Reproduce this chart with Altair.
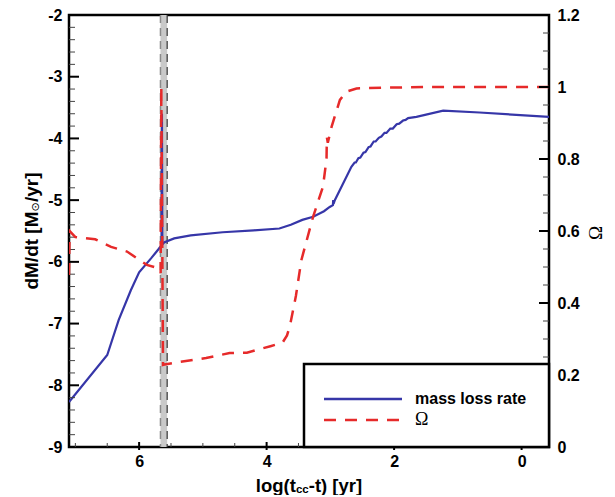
import altair as alt
import pandas as pd

# ---------------- data ----------------
mdot_x = [7.10, 6.50, 6.32, 6.13, 6.00, 5.81, 5.70, 5.648, 5.642, 5.636,
          5.60, 5.45, 5.19, 4.69, 4.20, 3.80, 3.62, 3.44, 3.27, 3.10,
          3.01, 2.96, 2.955, 2.95, 2.93, 2.80, 2.67,
          2.62, 2.60, 2.56, 2.53, 2.48, 2.45, 2.40, 2.37, 2.32, 2.29,
          2.24, 2.20, 2.15, 2.12, 2.06, 2.02, 1.96, 1.92, 1.86, 1.82,
          1.78, 1.65, 1.23, 0.66, -0.43]
mdot_y = [-8.27, -7.51, -6.94, -6.46, -6.17, -5.94, -5.80, -5.73, -3.60, -5.72,
          -5.68, -5.62, -5.57, -5.52, -5.49, -5.46, -5.40, -5.32, -5.27, -5.18,
          -5.11, -5.08, -5.00, -5.06, -5.00, -4.73, -4.46,
          -4.39, -4.39, -4.32, -4.31, -4.23, -4.22, -4.14, -4.13, -4.05, -4.05,
          -3.99, -3.97, -3.91, -3.91, -3.84, -3.84, -3.77, -3.76, -3.71, -3.70,
          -3.67, -3.65, -3.55, -3.58, -3.65]

omega_x = [7.10, 7.09, 7.00, 6.69, 6.44, 6.19, 5.88, 5.69, 5.662, 5.652,
           5.625, 5.60, 5.415, 4.95, 4.58, 4.31, 3.94, 3.75, 3.68, 3.63,
           3.54, 3.455, 3.27, 3.116, 3.06, 3.055, 3.04, 2.98, 2.85, 2.75,
           2.59, 2.20, 1.50, 0.50, -0.43]
omega_y = [0.478, 0.600, 0.583, 0.577, 0.556, 0.543, 0.506, 0.496, 0.483, 1.000,
           0.228, 0.229, 0.235, 0.247, 0.261, 0.262, 0.280, 0.290, 0.310, 0.340,
           0.420, 0.519, 0.640, 0.723, 0.800, 0.860, 0.845, 0.890, 0.964, 0.987,
           0.996, 0.998, 1.000, 1.000, 1.000]

band_edges = [5.665, 5.56]          # shaded vertical band
x_domain = [7.1, -0.43]
x_major = [6, 4, 2, 0]
x_minor = [7.0, 6.5, 5.5, 5.0, 4.5, 3.5, 3.0, 2.5, 1.5, 1.0, 0.5]
left_domain = [-9, -2]
left_major = [-9, -8, -7, -6, -5, -4, -3, -2]
left_minor = [round(-9 + 0.2 * i, 1) for i in range(36) if i % 5 != 0]
right_domain = [0, 1.2]
right_major = [0, 0.2, 0.4, 0.6, 0.8, 1.0, 1.2]
right_minor = [round(0.05 * i, 2) for i in range(25) if i % 4 != 0]
legend_labels = ["mass loss rate", "\u03a9"]
x_title = ["log(t", "cc", "-t) [yr]"]
y_title = ["dM/dt [M", "\u2299", "/yr]"]
right_title = "\u03a9"

# ---------------- styling ----------------
W, H = 480, 432
FONT = "Liberation Sans"
SERIF = "Liberation Serif"
BLUE = "#3636a8"
RED = "#e62a2a"

AW = {'l': 278, 'o': 611, 'g': 611, '(': 333, 't': 333, 'c': 556, '-': 333, ')': 333,
      ' ': 278, '[': 333, 'y': 556, 'r': 389, ']': 333, 'd': 611, 'M': 833, '/': 278}


def tw(s, size):
    return sum(AW[c] for c in s) * size / 1000.0


mdot_df = pd.DataFrame({"x": mdot_x, "y": mdot_y, "i": range(len(mdot_x))})
omega_df = pd.DataFrame({"x": omega_x, "y": omega_y, "i": range(len(omega_x))})
band_df = pd.DataFrame({"x0": [band_edges[0]], "x1": [band_edges[1]]})
one = pd.DataFrame({"k": [0]})

xscale = alt.Scale(domain=x_domain, nice=False, zero=False)
xaxis = alt.Axis(values=x_major, labelExpr="'' + datum.value", ticks=False, tickSize=0,
                 domain=False, grid=False, labelFont=FONT, labelFontSize=16,
                 labelFontWeight="bold", labelColor="black", labelPadding=6, title="")
lscale = alt.Scale(domain=left_domain, nice=False, zero=False)
laxis = alt.Axis(orient="left", values=left_major, labelExpr="'' + datum.value", ticks=False,
                 tickSize=0, domain=False, grid=False, labelFont=FONT, labelFontSize=16,
                 labelFontWeight="bold", labelColor="black", labelPadding=7, title="")
rscale = alt.Scale(domain=right_domain, nice=False, zero=False)
raxis = alt.Axis(orient="right", values=right_major, format=".1~f", ticks=False,
                 tickSize=0, domain=False, grid=False, labelFont=FONT, labelFontSize=16,
                 labelFontWeight="bold", labelColor="black", labelPadding=8, title="")


def X(f):
    return alt.X(f, type="quantitative", scale=xscale, axis=xaxis)


def YL(f):
    return alt.Y(f, type="quantitative", scale=lscale, axis=laxis)


def YR(f):
    return alt.Y(f, type="quantitative", scale=rscale, axis=raxis)


# ---------------- left group ----------------
band = alt.Chart(band_df).mark_rect(color="#c9c9c9").encode(
    x=X("x0"), x2="x1", y=alt.value(0), y2=alt.value(H))
band_l = alt.Chart(pd.DataFrame({"v": [band_edges[0]]})).mark_rule(
    color="#8a8a8a", strokeWidth=1.5, strokeDash=[8, 5]).encode(
    x=X("v"), y=alt.value(0), y2=alt.value(H))
band_r = alt.Chart(pd.DataFrame({"v": [band_edges[1]]})).mark_rule(
    color="#333333", strokeWidth=1.2, strokeDash=[8, 5]).encode(
    x=X("v"), y=alt.value(0), y2=alt.value(H))

blue = alt.Chart(mdot_df).mark_line(color=BLUE, strokeWidth=2.2, clip=True).encode(
    x=X("x"), y=YL("y"), order="i:Q")

lt_major = alt.Chart(pd.DataFrame({"v": left_major})).mark_rule(
    color="black", strokeWidth=2).encode(y=YL("v"), x=alt.value(0), x2=alt.value(10))
lt_minor = alt.Chart(pd.DataFrame({"v": left_minor})).mark_rule(
    color="#444444", strokeWidth=1).encode(y=YL("v"), x=alt.value(0), x2=alt.value(6))
xt_major = alt.Chart(pd.DataFrame({"v": x_major})).mark_rule(
    color="black", strokeWidth=2).encode(x=X("v"), y=alt.value(H - 5), y2=alt.value(H + 3))
xt_minor = alt.Chart(pd.DataFrame({"v": x_minor})).mark_rule(
    color="#444444", strokeWidth=1).encode(x=X("v"), y=alt.value(H - 4), y2=alt.value(H))

left_group = alt.layer(band, band_l, band_r, blue, lt_major, lt_minor, xt_major, xt_minor)

# ---------------- right group ----------------
red = alt.Chart(omega_df).mark_line(color=RED, strokeWidth=2.5, strokeDash=[12, 9],
                                     clip=True).encode(x=X("x"), y=YR("y"), order="i:Q")
rt_major = alt.Chart(pd.DataFrame({"v": right_major})).mark_rule(
    color="black", strokeWidth=2).encode(y=YR("v"), x=alt.value(W), x2=alt.value(W - 10))
rt_minor = alt.Chart(pd.DataFrame({"v": right_minor})).mark_rule(
    color="#444444", strokeWidth=1).encode(y=YR("v"), x=alt.value(W), x2=alt.value(W - 6))

# legend box
leg_box = alt.Chart(one).mark_rect(fill="white", stroke="black", strokeWidth=2.5).encode(
    x=alt.value(235), x2=alt.value(W), y=alt.value(349), y2=alt.value(H))
leg_blue = alt.Chart(one).mark_rule(color=BLUE, strokeWidth=2.5).encode(
    x=alt.value(255), x2=alt.value(333), y=alt.value(384))
leg_red = alt.Chart(one).mark_rule(color=RED, strokeWidth=2.5, strokeDash=[12, 9]).encode(
    x=alt.value(255), x2=alt.value(333), y=alt.value(405))
leg_t1 = alt.Chart(one).mark_text(text=legend_labels[0], font=FONT, fontSize=16,
                                   fontWeight="bold", align="left", baseline="middle",
                                   color="black").encode(x=alt.value(346), y=alt.value(384))
leg_t2 = alt.Chart(one).mark_text(text=legend_labels[1], font=SERIF, fontSize=18,
                                   align="left", baseline="middle",
                                   color="black").encode(x=alt.value(346), y=alt.value(405))

# axis titles built from pieces (for subscripts)
TS, SS = 18.5, 11.5
xw = [tw(x_title[0], TS), tw(x_title[1], SS), tw(x_title[2], TS)]
x0 = W / 2 - sum(xw) / 2
xy = H + 39
xt1 = alt.Chart(one).mark_text(text=x_title[0], font=FONT, fontSize=TS, fontWeight="bold",
                               align="left", color="black").encode(
    x=alt.value(x0), y=alt.value(xy))
xt2 = alt.Chart(one).mark_text(text=x_title[1], font=FONT, fontSize=SS, fontWeight="bold",
                               align="left", color="black").encode(
    x=alt.value(x0 + xw[0]), y=alt.value(xy + 4))
xt3 = alt.Chart(one).mark_text(text=x_title[2], font=FONT, fontSize=TS, fontWeight="bold",
                               align="left", color="black").encode(
    x=alt.value(x0 + xw[0] + xw[1]), y=alt.value(xy))

YS = 19
sun_w = 9.5
yw = [tw(y_title[0], YS), sun_w, tw(y_title[2], YS)]
y0 = H / 2 + sum(yw) / 2
yx = -37
yt1 = alt.Chart(one).mark_text(text=y_title[0], font=FONT, fontSize=YS, fontWeight="bold",
                               align="left", angle=270, color="black").encode(
    x=alt.value(yx), y=alt.value(y0))
yt2 = alt.Chart(one).mark_text(text=y_title[1], font="DejaVu Sans", fontSize=11,
                               align="left", angle=270, color="black").encode(
    x=alt.value(yx + 4), y=alt.value(y0 - yw[0]))
yt3 = alt.Chart(one).mark_text(text=y_title[2], font=FONT, fontSize=YS, fontWeight="bold",
                               align="left", angle=270, color="black").encode(
    x=alt.value(yx), y=alt.value(y0 - yw[0] - yw[1]))

rtitle = alt.Chart(one).mark_text(text=right_title, font=SERIF, fontSize=19, angle=270,
                                  align="center", baseline="middle", color="black").encode(
    x=alt.value(W + 47), y=alt.value(H / 2 + 2))

right_group = alt.layer(red, rt_major, rt_minor, leg_box, leg_blue, leg_red, leg_t1, leg_t2,
                        xt1, xt2, xt3, yt1, yt2, yt3, rtitle)

chart = alt.layer(left_group, right_group).resolve_scale(y="independent").properties(
    width=W, height=H,
    autosize=alt.AutoSizeParams(type="none"),
    padding={"left": 61, "top": 7, "right": 57, "bottom": 48},
).configure_view(stroke="black", strokeWidth=2.5)

chart.save("out.html", embed_options={"renderer": "svg", "actions": False})
